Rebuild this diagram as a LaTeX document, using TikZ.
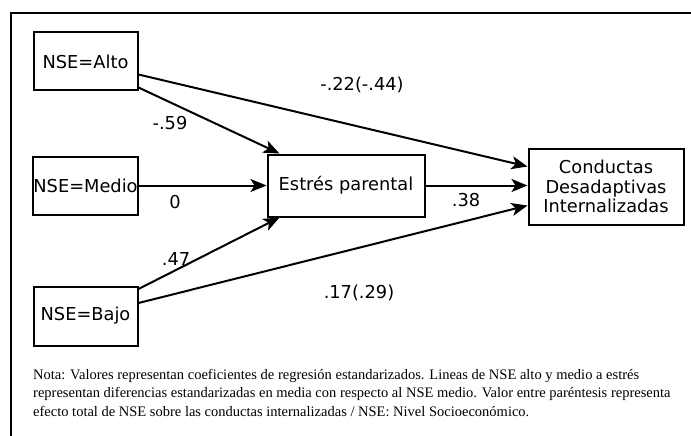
\documentclass[tikz,border=0pt]{standalone}
\usepackage{fontspec}
\setmainfont{Liberation Serif}
\newfontfamily\boxfont{DejaVu Sans}
\usetikzlibrary{arrows.meta}
\begin{document}
\begin{tikzpicture}[x=1pt,y=-1pt,
  box/.style={draw,line width=2pt,inner sep=0pt,font=\boxfont\fontsize{17.8}{19.5}\selectfont,align=center},
  lbl/.style={font=\boxfont\fontsize{17.8}{19}\selectfont,inner sep=0pt},
  conn/.style={line width=2pt,-{Stealth[length=16pt,width=13pt,inset=4pt]}}]
\useasboundingbox (0,0) rectangle (691,436);
\draw[line width=2pt] (11,436) -- (11,13.5) -- (691,13.5);
\node[box,minimum width=104pt,minimum height=58pt] (alto) at (85.5,61.5) {NSE=Alto};
\node[box,minimum width=104pt,minimum height=58pt] (medio) at (85.5,185.5) {NSE=Medio};
\node[box,minimum width=104pt,minimum height=59pt] (bajo) at (85.5,316) {NSE=Bajo};
\node[box,minimum width=157pt,minimum height=62pt] (estres) at (346,185.5) {Estrés parental};
\node[box,minimum width=155pt,minimum height=76pt] (cond) at (606,186.5) {Conductas\\Desadaptivas\\Internalizadas};
\draw[conn] ([yshift=-26pt]alto.east) -- ([xshift=13pt]estres.north west);
\draw[conn] ([yshift=-13pt]alto.east) -- ([yshift=20pt]cond.west);
\draw[conn] (medio.east) -- (estres.west);
\draw[conn] (estres.east) -- (estres.east -| cond.west);
\draw[conn] ([yshift=27pt]bajo.east) -- ([xshift=13pt]estres.south west);
\draw[conn] ([yshift=13pt]bajo.east) -- ([yshift=-19pt]cond.west);
\node[lbl] (l1) at (362,85) {-.22(-.44)};
\node[lbl] (l2) at (170,123) {-.59};
\node[lbl] (l3) at (175,202) {0};
\node[lbl] (l4) at (466,200) {.38};
\node[lbl] (l5) at (176,259) {.47};
\node[lbl] (l6) at (359,293) {.17(.29)};
\node[anchor=north west,inner sep=0pt,align=left,font=\fontsize{14.5}{18.5}\selectfont] (nota) at (33,369)
{Nota: Valores representan coeficientes de regresión estandarizados. Lineas de NSE alto y medio a estrés\\
representan diferencias estandarizadas en media con respecto al NSE medio. Valor entre paréntesis representa\\
efecto total de NSE sobre las conductas internalizadas / NSE: Nivel Socioeconómico.};
\end{tikzpicture}
\end{document}
